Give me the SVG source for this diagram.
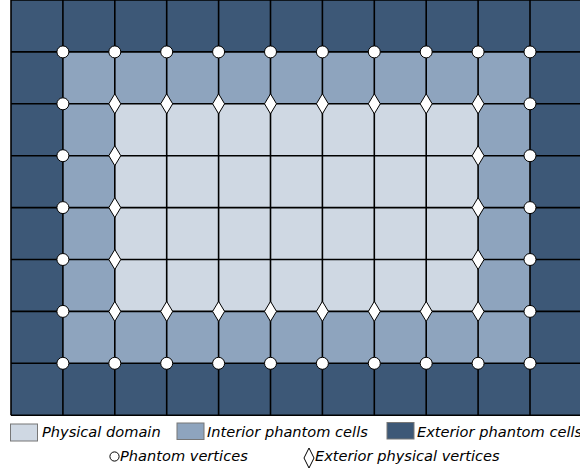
<svg xmlns="http://www.w3.org/2000/svg" width="580" height="472" viewBox="0 0 580 472">
<style>
.ext{fill:#3d5877}
.int{fill:#8ea4be}
.phy{fill:#cfd8e3}
.gl{stroke:#000;stroke-width:1.6;fill:none}
.pv{fill:#fff;stroke:#000;stroke-width:1}
.ev{fill:#fff;stroke:#000;stroke-width:1}
.sw{stroke:#777;stroke-width:1}
.lt{font-family:"DejaVu Sans",sans-serif;font-style:italic;font-size:14.6px;fill:#000}
</style>
<defs>
<circle id="c" r="6" class="pv"/>
<path id="d" d="M0,-10 L6,0 L0,10 L-6,0 Z" class="ev"/>
</defs>
<rect x="0" y="0" width="580" height="472" fill="#fff"/>
<g id="cells">
<rect class="ext" x="11" y="0" width="571" height="415.2"/>
<rect class="int" x="62.9" y="51.9" width="467.1" height="311.4"/>
<rect class="phy" x="114.8" y="103.8" width="363.3" height="207.6"/>
</g>
<g id="gridlines" class="gl">
<path d="M11,0V415.2 M62.9,0V415.2 M114.8,0V415.2 M166.7,0V415.2 M218.6,0V415.2 M270.5,0V415.2 M322.4,0V415.2 M374.3,0V415.2 M426.2,0V415.2 M478.1,0V415.2 M530,0V415.2"/>
<path d="M11,0H582 M11,51.9H582 M11,103.8H582 M11,155.7H582 M11,207.6H582 M11,259.5H582 M11,311.4H582 M11,363.3H582 M11,415.2H582"/>
</g>
<g id="phantom-vertices">
<use href="#c" x="62.9" y="51.9"/><use href="#c" x="114.8" y="51.9"/><use href="#c" x="166.7" y="51.9"/><use href="#c" x="218.6" y="51.9"/><use href="#c" x="270.5" y="51.9"/><use href="#c" x="322.4" y="51.9"/><use href="#c" x="374.3" y="51.9"/><use href="#c" x="426.2" y="51.9"/><use href="#c" x="478.1" y="51.9"/><use href="#c" x="530" y="51.9"/>
<use href="#c" x="62.9" y="363.3"/><use href="#c" x="114.8" y="363.3"/><use href="#c" x="166.7" y="363.3"/><use href="#c" x="218.6" y="363.3"/><use href="#c" x="270.5" y="363.3"/><use href="#c" x="322.4" y="363.3"/><use href="#c" x="374.3" y="363.3"/><use href="#c" x="426.2" y="363.3"/><use href="#c" x="478.1" y="363.3"/><use href="#c" x="530" y="363.3"/>
<use href="#c" x="62.9" y="103.8"/><use href="#c" x="62.9" y="155.7"/><use href="#c" x="62.9" y="207.6"/><use href="#c" x="62.9" y="259.5"/><use href="#c" x="62.9" y="311.4"/>
<use href="#c" x="530" y="103.8"/><use href="#c" x="530" y="155.7"/><use href="#c" x="530" y="207.6"/><use href="#c" x="530" y="259.5"/><use href="#c" x="530" y="311.4"/>
</g>
<g id="exterior-physical-vertices">
<use href="#d" x="114.8" y="103.8"/><use href="#d" x="166.7" y="103.8"/><use href="#d" x="218.6" y="103.8"/><use href="#d" x="270.5" y="103.8"/><use href="#d" x="322.4" y="103.8"/><use href="#d" x="374.3" y="103.8"/><use href="#d" x="426.2" y="103.8"/><use href="#d" x="478.1" y="103.8"/>
<use href="#d" x="114.8" y="311.4"/><use href="#d" x="166.7" y="311.4"/><use href="#d" x="218.6" y="311.4"/><use href="#d" x="270.5" y="311.4"/><use href="#d" x="322.4" y="311.4"/><use href="#d" x="374.3" y="311.4"/><use href="#d" x="426.2" y="311.4"/><use href="#d" x="478.1" y="311.4"/>
<use href="#d" x="114.8" y="155.7"/><use href="#d" x="114.8" y="207.6"/><use href="#d" x="114.8" y="259.5"/>
<use href="#d" x="478.1" y="155.7"/><use href="#d" x="478.1" y="207.6"/><use href="#d" x="478.1" y="259.5"/>
</g>
<g id="legend">
<rect class="phy sw" x="10.5" y="424" width="27" height="17"/>
<text class="lt" x="42" y="437">Physical domain</text>
<rect class="int sw" x="177" y="423" width="27" height="16.5"/>
<text class="lt" x="207" y="437">Interior phantom cells</text>
<rect class="ext sw" x="387" y="422.5" width="27" height="16.5"/>
<text class="lt" x="417" y="437">Exterior phantom cells</text>
<circle cx="114.5" cy="456.5" r="4.6" fill="#fff" stroke="#000" stroke-width="1"/>
<text class="lt" x="120" y="461">Phantom vertices</text>
<path d="M309,448 L314,458 L309,468 L304,458 Z" fill="#fff" stroke="#000" stroke-width="1"/>
<text class="lt" x="315" y="461">Exterior physical vertices</text>
</g>
</svg>
